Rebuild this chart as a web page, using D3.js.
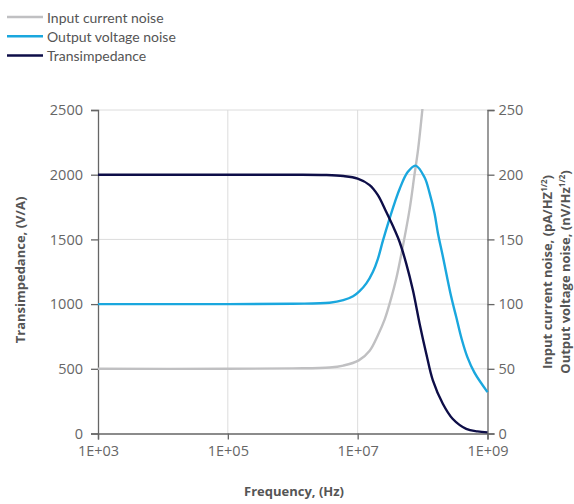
<!DOCTYPE html>
<html>
<head>
<meta charset="utf-8">
<script src="https://cdn.jsdelivr.net/npm/d3@7"></script>
<style>
  body { margin: 0; background: #fff; }
  svg { display: block; }
  .legend text { font-family: "Lato", "Noto Sans", sans-serif; font-size: 14px; fill: #555; }
  .tick text { font-family: "Open Sans", sans-serif; font-size: 14.5px; fill: #666; }
  .title { font-family: "Open Sans", sans-serif; font-size: 13px; font-weight: bold; fill: #555; }
</style>
</head>
<body>
<script>
// frequency in Hz, transimpedance in V/A
const tzFreq = [1e3, 1e4, 1e5, 1e6, 3.16e6, 6e6, 1e7, 1.53e7, 2.05e7, 2.75e7, 3.7e7, 4.43e7, 5.6e7, 7.1e7, 9e7, 1.14e8, 1.44e8, 2.05e8, 2.9e8, 4.7e8, 7e8, 1e9];
const tzVal  = [2000, 2000, 2000, 2000, 1998, 1990, 1970, 1920, 1842, 1713, 1575, 1480, 1313, 1107, 849, 617, 410, 230, 114, 36, 16, 9];

// output voltage noise, nV/Hz^1/2
const vnFreq = [1e3, 1e5, 1e6, 3.7e6, 6e6, 8.5e6, 1.07e7, 1.36e7, 1.72e7, 2.05e7, 2.45e7, 3.1e7, 3.7e7, 4.43e7, 5.9e7, 7.8e7, 1.07e8, 1.28e8, 1.53e8, 1.72e8, 2.05e8, 2.75e8, 3.3e8, 4.0e8, 4.9e8, 6.3e8, 1e9];
const vnVal  = [100, 100, 100.3, 101, 103, 106, 110, 116, 125, 135, 149, 166, 178, 189, 202, 207, 198, 186, 170, 155, 137, 106, 90, 73, 59, 47, 32];

// input current noise, pA/Hz^1/2
const inFreq = [1e3, 1e5, 1e6, 3.7e6, 6e6, 1.04e7, 1.53e7, 2.05e7, 2.6e7, 3.3e7, 3.94e7, 4.43e7, 6.3e7, 7.5e7, 8.5e7, 1e8];
const inVal  = [50, 50, 50.3, 51, 52.5, 56.5, 64, 76, 88, 105, 120, 132, 173, 200, 219, 252];

const freqTicks = [1e3, 1e5, 1e7, 1e9];
const leftTicks = [0, 500, 1000, 1500, 2000, 2500];
const rightTicks = [0, 50, 100, 150, 200, 250];

const series = [
  {name: "Input current noise", color: "#c0c0c2", f: inFreq, v: inVal, axis: "right"},
  {name: "Output voltage noise", color: "#1aa7de", f: vnFreq, v: vnVal, axis: "right"},
  {name: "Transimpedance", color: "#0e0e48", f: tzFreq, v: tzVal, axis: "left"}
];

const w = 574, h = 504;
const pLeft = 98, pRight = 487.5, pTop = 110, pBottom = 433.5;

const svg = d3.select("body").append("svg").attr("width", w).attr("height", h);

const x = d3.scaleLog().domain([1e3, 1e9]).range([pLeft, pRight]);
const yL = d3.scaleLinear().domain([0, 2500]).range([pBottom, pTop]);
const yR = d3.scaleLinear().domain([0, 250]).range([pBottom, pTop]);

// grid
svg.append("g").selectAll("line").data(leftTicks.slice(1)).join("line")
  .attr("x1", pLeft).attr("x2", pRight)
  .attr("y1", d => yL(d)).attr("y2", d => yL(d))
  .attr("stroke", "#dcdcdc").attr("stroke-width", 1);
svg.append("g").selectAll("line").data([1e5, 1e7]).join("line")
  .attr("x1", d => x(d)).attr("x2", d => x(d))
  .attr("y1", pTop).attr("y2", pBottom)
  .attr("stroke", "#dcdcdc").attr("stroke-width", 1);

// axes
const fmt = d => "1E+" + String(Math.round(Math.log10(d))).padStart(2, "0");
const styleAxis = g => {
  g.attr("font-family", null).attr("font-size", null);
  g.selectAll(".domain").attr("stroke", "#666").attr("stroke-width", 1.3);
  g.selectAll(".tick line").attr("stroke", "#666").attr("stroke-width", 1.3);
};
svg.append("g").attr("transform", `translate(0,${pBottom})`)
  .call(d3.axisBottom(x).tickValues(freqTicks).tickFormat(fmt).tickSizeOuter(0).tickSize(6).tickPadding(6))
  .call(styleAxis);
svg.append("g").attr("transform", `translate(${pLeft},0)`)
  .call(d3.axisLeft(yL).tickValues(leftTicks).tickFormat(d3.format("d")).tickSizeOuter(0).tickSize(7).tickPadding(8))
  .call(styleAxis);
svg.append("g").attr("transform", `translate(${pRight},0)`)
  .call(d3.axisRight(yR).tickValues(rightTicks).tickFormat(d3.format("d")).tickSizeOuter(0).tickSize(7).tickPadding(4))
  .call(styleAxis);

// curves
svg.append("clipPath").attr("id", "plot").append("rect")
  .attr("x", pLeft).attr("y", pTop - 1).attr("width", pRight - pLeft + 2).attr("height", pBottom - pTop + 2);

const plot = svg.append("g").attr("clip-path", "url(#plot)");
series.forEach(s => {
  const y = s.axis === "left" ? yL : yR;
  const line = d3.line().x(d => x(d[0])).y(d => y(d[1])).curve(d3.curveCatmullRom.alpha(0.5));
  plot.append("path")
    .datum(d3.zip(s.f, s.v))
    .attr("d", line)
    .attr("fill", "none")
    .attr("stroke", s.color)
    .attr("stroke-width", 2.4);
});

// legend
const legend = svg.append("g").attr("class", "legend");
series.forEach((s, i) => {
  const yy = 17 + i * 19.3;
  legend.append("line").attr("x1", 7).attr("x2", 43).attr("y1", yy).attr("y2", yy)
    .attr("stroke", s.color).attr("stroke-width", 2.5);
  legend.append("text").attr("x", 47).attr("y", yy + 5.5).text(s.name);
});

// titles
svg.append("text").attr("class", "title").attr("text-anchor", "middle")
  .attr("x", 294).attr("y", 496).text("Frequency, (Hz)");
svg.append("text").attr("class", "title").attr("text-anchor", "middle")
  .attr("transform", "translate(25,270) rotate(-90)").text("Transimpedance, (V/A)");

const rt = svg.append("g").attr("transform", "translate(552,272) rotate(-90)");
const addRight = (yOff, main, unit) => {
  const t = rt.append("text").attr("class", "title").attr("text-anchor", "middle").attr("y", yOff);
  t.append("tspan").text(main + unit);
  t.append("tspan").attr("dy", -5).attr("font-size", 8).text("1/2");
  t.append("tspan").attr("dy", 5).text(")");
};
addRight(0, "Input current noise, (pA/", "HZ");
addRight(18, "Output voltage noise, (nV/", "Hz");
</script>
</body>
</html>
